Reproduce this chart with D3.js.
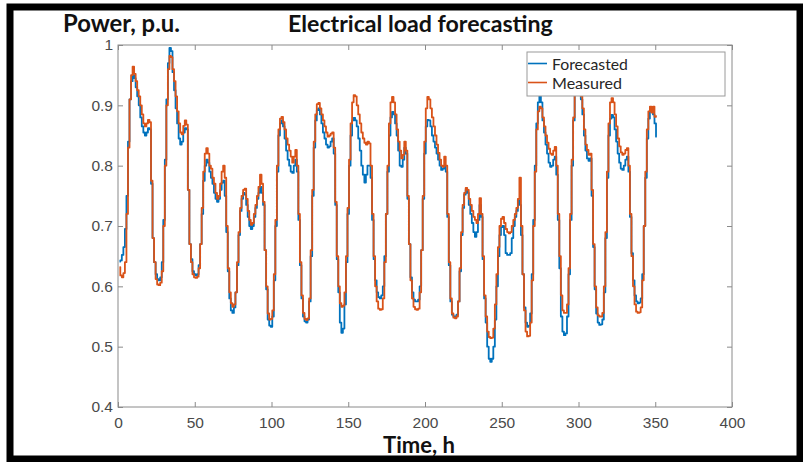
<!DOCTYPE html>
<html><head><meta charset="utf-8">
<script src="https://cdn.jsdelivr.net/npm/d3@7"></script>
<style>body{margin:0;background:#fff}svg{display:block}</style>
</head><body><svg id="c" width="803" height="462"></svg>
<script>
const xTicks = [0, 50, 100, 150, 200, 250, 300, 350, 400];
const yTicks = [0.4, 0.5, 0.6, 0.7, 0.8, 0.9, 1];
const xTickLabels = ["0", "50", "100", "150", "200", "250", "300", "350", "400"];
const yTickLabels = ["0.4", "0.5", "0.6", "0.7", "0.8", "0.9", "1"];
const seriesNames = ["Forecasted", "Measured"];
const titleText = "Electrical load forecasting";
const yLabelText = "Power, p.u.";
const xLabelText = "Time, h";
const startHour = 1;

const measured = [
  0.632,0.618,0.615,0.622,0.64,0.72,0.83,0.91,0.95,0.964,0.952,0.94,0.925,0.915,0.90,0.885,0.87,0.865,0.87,0.876,0.872,0.775,0.68,
  0.64,0.612,0.603,0.602,0.606,0.625,0.70,0.80,0.90,0.96,0.982,0.98,0.96,0.94,0.915,0.89,0.87,0.855,0.852,0.866,0.875,0.868,0.76,0.67,
  0.64,0.62,0.615,0.614,0.616,0.63,0.67,0.73,0.79,0.82,0.829,0.82,0.80,0.795,0.78,0.77,0.755,0.745,0.75,0.77,0.79,0.80,0.78,0.70,
  0.63,0.59,0.572,0.566,0.57,0.59,0.64,0.69,0.73,0.75,0.76,0.762,0.745,0.725,0.71,0.702,0.705,0.72,0.735,0.75,0.765,0.785,0.77,0.74,
  0.66,0.60,0.555,0.545,0.546,0.56,0.62,0.71,0.80,0.86,0.878,0.881,0.872,0.86,0.845,0.835,0.825,0.815,0.805,0.815,0.826,0.80,0.72,0.64,
  0.585,0.556,0.546,0.544,0.547,0.58,0.66,0.76,0.84,0.885,0.902,0.904,0.895,0.885,0.875,0.865,0.855,0.848,0.85,0.853,0.855,0.83,0.74,0.65,
  0.60,0.572,0.566,0.568,0.59,0.65,0.73,0.81,0.87,0.905,0.917,0.915,0.90,0.885,0.87,0.855,0.845,0.838,0.835,0.84,0.837,0.80,0.72,0.65,
  0.60,0.575,0.563,0.561,0.562,0.58,0.64,0.72,0.80,0.87,0.905,0.914,0.905,0.885,0.86,0.84,0.825,0.812,0.818,0.84,0.825,0.75,0.67,0.61,
  0.58,0.566,0.562,0.561,0.563,0.59,0.66,0.75,0.84,0.895,0.914,0.91,0.895,0.88,0.865,0.85,0.835,0.821,0.81,0.80,0.798,0.815,0.80,0.72,
  0.64,0.58,0.555,0.548,0.547,0.55,0.575,0.63,0.69,0.735,0.755,0.763,0.76,0.745,0.735,0.725,0.715,0.71,0.705,0.72,0.746,0.72,0.65,0.585,
  0.55,0.525,0.516,0.514,0.515,0.53,0.57,0.62,0.665,0.70,0.712,0.715,0.705,0.695,0.69,0.688,0.69,0.70,0.71,0.72,0.73,0.745,0.78,0.70,
  0.62,0.56,0.525,0.517,0.518,0.54,0.61,0.70,0.79,0.86,0.89,0.898,0.895,0.88,0.865,0.85,0.838,0.828,0.82,0.818,0.825,0.831,0.80,0.72,
  0.65,0.585,0.56,0.556,0.556,0.57,0.63,0.72,0.81,0.88,0.925,0.945,0.95,0.935,0.915,0.895,0.86,0.835,0.826,0.818,0.82,0.76,0.67,0.60,
  0.565,0.552,0.55,0.55,0.556,0.60,0.69,0.79,0.87,0.905,0.912,0.905,0.885,0.865,0.845,0.832,0.822,0.818,0.82,0.826,0.829,0.80,0.72,0.65,
  0.60,0.57,0.558,0.556,0.557,0.565,0.61,0.70,0.79,0.86,0.89,0.898,0.888,0.898,0.881,0.882
];

const forecasted = [
  0.641,0.643,0.652,0.665,0.695,0.75,0.84,0.91,0.94,0.95,0.945,0.93,0.915,0.90,0.88,0.865,0.855,0.85,0.855,0.862,0.86,0.77,0.68,
  0.64,0.62,0.612,0.61,0.615,0.64,0.71,0.81,0.91,0.97,0.995,0.99,0.955,0.925,0.895,0.87,0.845,0.835,0.84,0.855,0.862,0.86,0.76,0.67,
  0.645,0.625,0.62,0.618,0.62,0.635,0.67,0.72,0.775,0.80,0.81,0.805,0.79,0.78,0.77,0.755,0.745,0.74,0.745,0.76,0.772,0.775,0.75,0.69,
  0.625,0.58,0.56,0.556,0.565,0.59,0.635,0.685,0.725,0.745,0.755,0.752,0.735,0.715,0.70,0.695,0.70,0.715,0.73,0.745,0.755,0.765,0.755,0.735,
  0.66,0.595,0.545,0.535,0.533,0.55,0.61,0.70,0.79,0.85,0.87,0.875,0.865,0.845,0.825,0.81,0.80,0.79,0.788,0.80,0.81,0.79,0.71,0.635,
  0.58,0.55,0.542,0.54,0.545,0.575,0.65,0.75,0.83,0.875,0.892,0.895,0.885,0.87,0.855,0.845,0.835,0.83,0.832,0.84,0.845,0.82,0.735,0.645,
  0.59,0.54,0.523,0.53,0.57,0.64,0.72,0.80,0.85,0.875,0.879,0.875,0.865,0.845,0.825,0.80,0.785,0.772,0.785,0.80,0.80,0.78,0.71,0.645,
  0.61,0.59,0.582,0.58,0.585,0.60,0.65,0.72,0.79,0.85,0.88,0.889,0.885,0.87,0.85,0.825,0.80,0.798,0.81,0.83,0.82,0.745,0.67,0.615,
  0.59,0.578,0.575,0.575,0.578,0.60,0.66,0.745,0.82,0.865,0.876,0.875,0.865,0.85,0.84,0.83,0.82,0.81,0.80,0.793,0.795,0.80,0.79,0.715,
  0.635,0.575,0.553,0.55,0.55,0.553,0.575,0.625,0.685,0.73,0.752,0.76,0.755,0.735,0.72,0.705,0.69,0.682,0.69,0.71,0.735,0.715,0.645,0.58,
  0.54,0.50,0.48,0.475,0.48,0.50,0.545,0.60,0.65,0.685,0.698,0.70,0.685,0.655,0.652,0.652,0.655,0.68,0.70,0.715,0.725,0.743,0.735,0.685,
  0.62,0.565,0.54,0.533,0.535,0.555,0.62,0.71,0.80,0.87,0.905,0.915,0.905,0.875,0.855,0.835,0.82,0.805,0.798,0.80,0.81,0.815,0.785,0.71,
  0.63,0.55,0.525,0.519,0.522,0.55,0.62,0.71,0.80,0.875,0.92,0.94,0.945,0.93,0.91,0.885,0.85,0.825,0.812,0.808,0.812,0.75,0.665,0.595,
  0.555,0.54,0.536,0.537,0.545,0.59,0.68,0.78,0.85,0.878,0.884,0.88,0.86,0.84,0.82,0.805,0.795,0.793,0.80,0.81,0.815,0.79,0.715,0.655,
  0.61,0.585,0.575,0.572,0.573,0.58,0.62,0.70,0.78,0.845,0.878,0.89,0.89,0.885,0.87,0.848
];

const colors = ["#0072BD", "#D95319"];

const svg = d3.select("#c");
const W = 803, H = 462;
const plot = {left: 118, right: 732, top: 45, bottom: 407};

const x = d3.scaleLinear().domain([0, 400]).range([plot.left, plot.right]);
const y = d3.scaleLinear().domain([0.4, 1]).range([plot.bottom, plot.top]);

svg.append("rect").attr("x", 0).attr("y", 0).attr("width", W).attr("height", H).attr("fill", "#fff");

const axisColor = "#8a8a8a";
const tickFont = "'Liberation Sans', Arial, Helvetica, sans-serif";

const gx = svg.append("g").attr("transform", `translate(0,${plot.bottom})`)
  .call(d3.axisBottom(x).tickValues(xTicks).tickFormat((d, i) => xTickLabels[i]).tickSizeInner(-5).tickSizeOuter(0).tickPadding(10));
const gxt = svg.append("g").attr("transform", `translate(0,${plot.top})`)
  .call(d3.axisTop(x).tickValues(xTicks).tickFormat("").tickSizeInner(-5).tickSizeOuter(0));
const gy = svg.append("g").attr("transform", `translate(${plot.left},0)`)
  .call(d3.axisLeft(y).tickValues(yTicks).tickFormat((d, i) => yTickLabels[i]).tickSizeInner(-5).tickSizeOuter(0).tickPadding(5));
const gyr = svg.append("g").attr("transform", `translate(${plot.right},0)`)
  .call(d3.axisRight(y).tickValues(yTicks).tickFormat("").tickSizeInner(-5).tickSizeOuter(0));
[gx, gxt, gy, gyr].forEach(g => {
  g.select(".domain").remove();
  g.selectAll(".tick line").attr("stroke", axisColor);
  g.selectAll("text").attr("fill", "#4a4a4a").attr("font-family", tickFont).attr("font-size", 15.5);
});

const hours = measured.map((_, i) => startHour + i);
const line = d3.line().x(d => x(d[0])).y(d => y(d[1])).curve(d3.curveStep);
const series = [forecasted, measured];
series.forEach((vals, k) => {
  svg.append("path")
    .datum(vals.map((v, i) => [hours[i], v]))
    .attr("d", line)
    .attr("fill", "none")
    .attr("stroke", colors[k])
    .attr("stroke-width", 1.8)
    .attr("stroke-linejoin", "round");
});

svg.append("rect")
  .attr("x", plot.left).attr("y", plot.top)
  .attr("width", plot.right - plot.left).attr("height", plot.bottom - plot.top)
  .attr("fill", "none").attr("stroke", axisColor).attr("stroke-width", 1);

const lg = svg.append("g");
lg.append("rect").attr("x", 527).attr("y", 52).attr("width", 198).attr("height", 44)
  .attr("fill", "#fff").attr("stroke", "#9a9a9a").attr("stroke-width", 1);
seriesNames.forEach((name, i) => {
  const yy = 63.5 + i * 19;
  lg.append("line").attr("x1", 528).attr("x2", 547).attr("y1", yy).attr("y2", yy)
    .attr("stroke", colors[i]).attr("stroke-width", 1.6);
  lg.append("text").attr("x", 552).attr("y", yy + 6).text(name)
    .attr("font-family", "Lato, 'Open Sans', sans-serif").attr("font-size", 15).attr("fill", "#262626");
});

function fit(sel, target) {
  const w = sel.node().getComputedTextLength();
  const fs = parseFloat(sel.attr("font-size"));
  sel.attr("font-size", fs * target / w);
}
const boldFont = "Lato, 'Open Sans', sans-serif";
const t1 = svg.append("text").attr("x", 63).attr("y", 32).text(yLabelText)
  .attr("font-family", boldFont).attr("font-weight", 700).attr("font-size", 20).attr("fill", "#111");
fit(t1, 117);
const t2 = svg.append("text").attr("x", 288).attr("y", 32).text(titleText)
  .attr("font-family", boldFont).attr("font-weight", 700).attr("font-size", 20).attr("fill", "#111");
fit(t2, 265);
const t3 = svg.append("text").attr("x", 383).attr("y", 453).text(xLabelText)
  .attr("font-family", boldFont).attr("font-weight", 700).attr("font-size", 20).attr("fill", "#111");
fit(t3, 72);
lg.selectAll("text").each(function(d, i) { fit(d3.select(this), i === 0 ? 76 : 70); });

svg.append("rect").attr("x", 10).attr("y", 7).attr("width", 790).attr("height", 452)
  .attr("fill", "none").attr("stroke", "#000").attr("stroke-width", 7);
</script>
</body></html>
